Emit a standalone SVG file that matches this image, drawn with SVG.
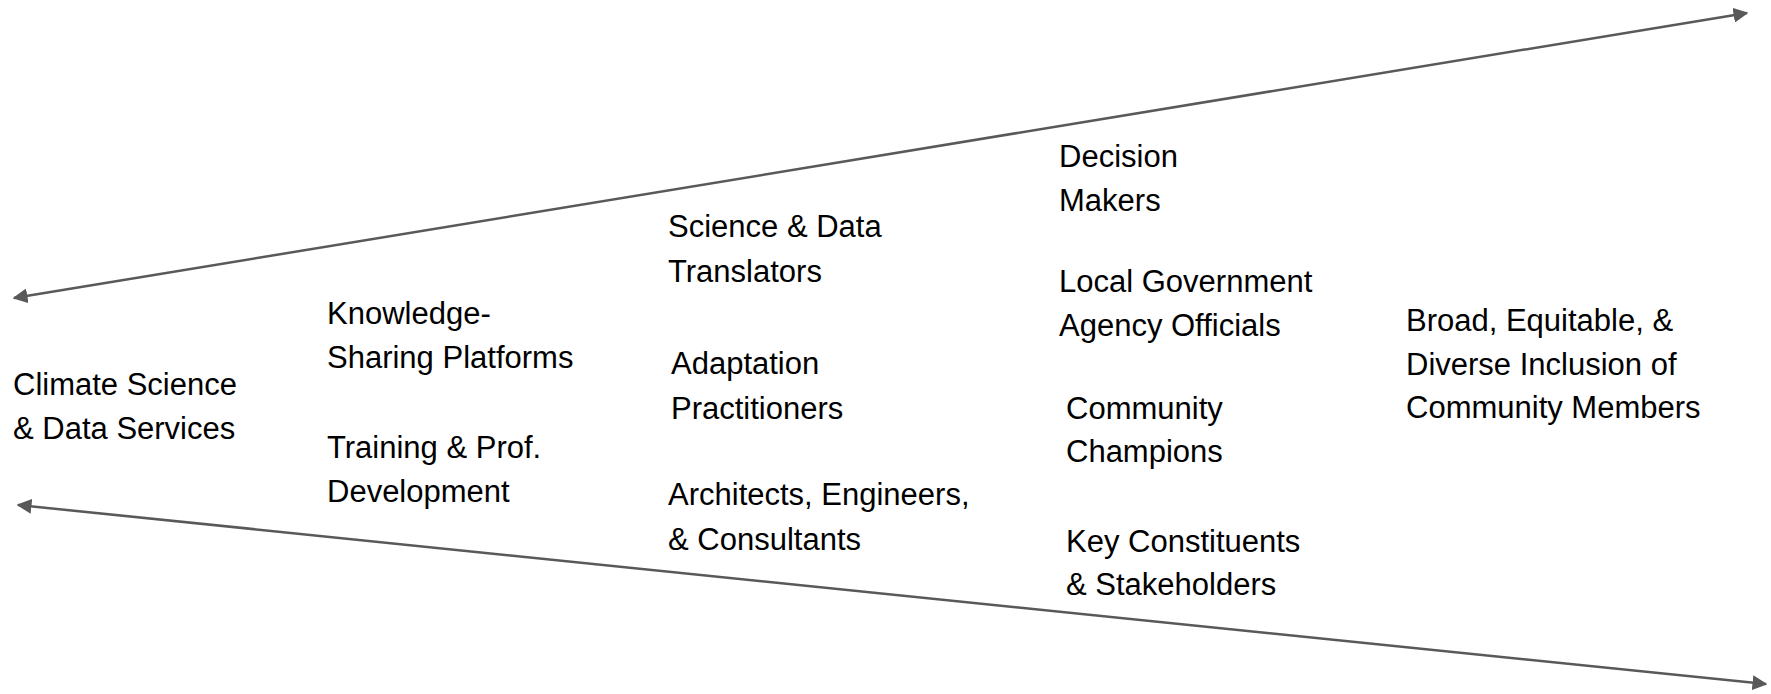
<svg xmlns="http://www.w3.org/2000/svg" width="1771" height="694" viewBox="0 0 1771 694">
<style>
text{font-family:"Liberation Sans",Arial,sans-serif;font-size:31px;fill:#000}
.c{stroke:#595959;stroke-width:2.5;fill:none}
</style>
<defs>
<marker id="ah" viewBox="0 0 10 10" refX="9" refY="5" markerWidth="6" markerHeight="6" markerUnits="strokeWidth" orient="auto-start-reverse">
<path d="M0,0 L10,5 L0,10 z" fill="#595959"/>
</marker>
</defs>
<rect width="1771" height="694" fill="#fff"/>
<g id="connectors">
<line class="c" x1="14" y1="298" x2="1747" y2="13" marker-start="url(#ah)" marker-end="url(#ah)"/>
<line class="c" x1="18" y1="505" x2="1766" y2="684" marker-start="url(#ah)" marker-end="url(#ah)"/>
</g>
<g id="climate"><text x="13" y="395">Climate Science</text><text x="13" y="439">&amp; Data Services</text></g>
<g id="knowledge"><text x="327" y="324">Knowledge-</text><text x="327" y="368">Sharing Platforms</text></g>
<g id="training"><text x="327" y="458">Training &amp; Prof.</text><text x="327" y="502">Development</text></g>
<g id="translators"><text x="668" y="237">Science &amp; Data</text><text x="668" y="282">Translators</text></g>
<g id="adaptation"><text x="671" y="374">Adaptation</text><text x="671" y="419">Practitioners</text></g>
<g id="architects"><text x="668" y="505">Architects, Engineers,</text><text x="668" y="550">&amp; Consultants</text></g>
<g id="decision"><text x="1059" y="167">Decision</text><text x="1059" y="211">Makers</text></g>
<g id="local"><text x="1059" y="292">Local Government</text><text x="1059" y="336">Agency Officials</text></g>
<g id="champions"><text x="1066" y="419">Community</text><text x="1066" y="462">Champions</text></g>
<g id="constituents"><text x="1066" y="552">Key Constituents</text><text x="1066" y="595">&amp; Stakeholders</text></g>
<g id="broad"><text x="1406" y="331">Broad, Equitable, &amp;</text><text x="1406" y="375">Diverse Inclusion of</text><text x="1406" y="418">Community Members</text></g>
</svg>
